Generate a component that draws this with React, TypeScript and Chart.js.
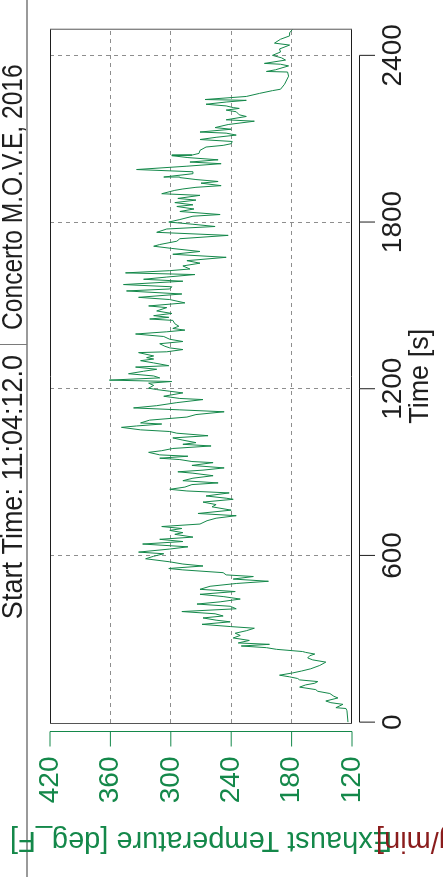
import React, { useEffect, useRef } from "react";
import { Chart, registerables } from "chart.js";

Chart.register(...registerables);

// ---- tick labels / titles ----
const timeTicks = [0, 600, 1200, 1800, 2400];
const tempTicks = [120, 180, 240, 300, 360, 420];
const titleLeft = "Start Time: 11:04:12.0";
const titleRight = "Concerto M.O.V.E, 2016";
const xTitle = "Time [s]";
const yTitle = "Exhaust Temperature [deg_F]";
const y2Title = "Fuel Rate [g/min]";

// ---- series: exhaust temperature vs time ----
const timesA = [0, 41, 49, 52, 64, 70, 76, 87, 93, 103, 111, 117, 126, 134, 140, 146, 152, 157, 163, 169, 177, 184, 192, 204, 216, 224, 231, 239, 245, 251, 254, 262, 268, 274, 280, 285, 294, 303, 312, 320, 329, 338, 344, 352, 361, 367, 375, 382, 390, 398, 408, 417, 425, 433, 443, 452, 460, 470, 478, 489, 499, 507, 515, 524, 530, 538, 548, 553, 562, 569, 577, 588, 597, 606, 612, 623, 631, 641, 650, 658, 666, 676, 682, 690, 697, 704, 713, 725, 734, 743, 751, 763, 775, 783, 792, 802];
const tempsA = [124, 125, 126, 136, 129, 141, 146, 134, 138, 142, 154, 156, 172, 166, 157, 154, 172, 174, 182, 192, 179, 170, 161, 152, 146, 159, 164, 162, 157, 166, 169, 195, 205, 230, 202, 233, 222, 238, 231, 236, 225, 217, 241, 269, 241, 255, 268, 248, 256, 289, 235, 241, 274, 251, 231, 248, 271, 236, 271, 261, 235, 203, 238, 218, 245, 248, 288, 302, 268, 288, 301, 325, 317, 307, 332, 301, 283, 328, 288, 311, 278, 296, 288, 301, 289, 309, 271, 264, 255, 235, 273, 240, 259, 255, 268, 238];

const timesB = [806, 814, 825, 832, 838, 846, 855, 861, 869, 878, 887, 896, 901, 907, 915, 924, 934, 938, 945, 950, 957, 962, 971, 977, 985, 994, 1000, 1006, 1015, 1023, 1031, 1040, 1046, 1052, 1061, 1066, 1073, 1077, 1087, 1098, 1107, 1117, 1124, 1131, 1139, 1150, 1161, 1165, 1173, 1185, 1191, 1197, 1202, 1212, 1220, 1226, 1231, 1239, 1246, 1254, 1263, 1270, 1278, 1283, 1293, 1301, 1307, 1312, 1318, 1330, 1333, 1341, 1347, 1353, 1362, 1370, 1378, 1388, 1397, 1405, 1411, 1417, 1425, 1434, 1446, 1451, 1457, 1463, 1471, 1480, 1492, 1498, 1509, 1521, 1529, 1541, 1552, 1559, 1567, 1575, 1587, 1594, 1602, 1611, 1617, 1625, 1631, 1642, 1652];
const tempsB = [245, 265, 242, 284, 301, 286, 279, 253, 288, 278, 258, 278, 293, 268, 247, 279, 258, 279, 291, 311, 283, 311, 322, 309, 298, 260, 288, 275, 288, 298, 263, 294, 301, 330, 349, 334, 309, 330, 321, 284, 275, 247, 291, 337, 314, 294, 268, 291, 307, 288, 301, 314, 322, 317, 322, 299, 361, 311, 317, 342, 327, 314, 335, 302, 317, 330, 317, 324, 317, 332, 304, 288, 301, 306, 311, 288, 301, 307, 335, 304, 286, 298, 292, 296, 298, 321, 302, 317, 299, 314, 304, 322, 286, 301, 332, 289, 344, 301, 299, 347, 288, 327, 304, 276, 345, 301, 281, 288, 271];

const timesC = [1661, 1673, 1684, 1694, 1705, 1713, 1719, 1731, 1740, 1752, 1763, 1775, 1784, 1792, 1800, 1809, 1821, 1827, 1838, 1847, 1856, 1862, 1870, 1879, 1885, 1896, 1902, 1914, 1919, 1925, 1931, 1940, 1946, 1953, 1960, 1962, 1974, 1981, 1989, 2001, 2010, 2016, 2024, 2032, 2039, 2041, 2047, 2058, 2070, 2076, 2082, 2090, 2097, 2105, 2113, 2120, 2124, 2134, 2140, 2151, 2163, 2168, 2180, 2186, 2197, 2203, 2209, 2212, 2218, 2224, 2232, 2238, 2241, 2252, 2263, 2273, 2278, 2296, 2325, 2340, 2342, 2348, 2362, 2368, 2371, 2383, 2391, 2400, 2412, 2423, 2437, 2444, 2458, 2470, 2481, 2494];
const tempsC = [284, 245, 298, 271, 299, 317, 311, 294, 291, 243, 314, 304, 256, 278, 302, 291, 278, 251, 291, 277, 294, 278, 296, 275, 293, 271, 309, 296, 288, 275, 250, 270, 253, 275, 291, 307, 278, 278, 334, 284, 250, 281, 253, 283, 299, 279, 272, 271, 265, 248, 240, 239, 271, 255, 235, 245, 271, 240, 256, 243, 217, 245, 225, 232, 235, 245, 232, 238, 245, 265, 245, 225, 266, 225, 212, 199, 191, 187, 183, 184, 205, 196, 183, 191, 207, 186, 190, 199, 191, 192, 182, 197, 191, 182, 182, 179];

const W = 877;
const H = 443;
const GREEN = "#14884a";
const RED = "#8a1c1c";
const INK = "#1e1e1e";
const FONT = "'Liberation Sans', Arial, Helvetica, sans-serif";

function buildPoints() {
  const pts: { x: number; y: number }[] = [];
  const add = (ts: number[], vs: number[]) => ts.forEach((t, i) => pts.push({ x: t, y: vs[i] }));
  add(timesA, tempsA);
  add(timesB, tempsB);
  add(timesC, tempsC);
  return pts;
}

const decor = {
  id: "decor",
  afterDraw(chart: any) {
    const ctx: CanvasRenderingContext2D = chart.ctx;
    const { left, right, top, bottom } = chart.chartArea;
    const xs = chart.scales.x;
    const ys = chart.scales.y;
    const seg = (x1: number, y1: number, x2: number, y2: number) => {
      ctx.beginPath();
      ctx.moveTo(x1, y1);
      ctx.lineTo(x2, y2);
      ctx.stroke();
    };
    ctx.save();
    // header band
    ctx.strokeStyle = "#9a9a9a";
    ctx.lineWidth = 2;
    seg(0, 27, W, 27);
    ctx.strokeStyle = "#7a7a7a";
    ctx.lineWidth = 1;
    seg(532.5, 0, 532.5, 27);
    ctx.fillStyle = INK;
    ctx.textBaseline = "alphabetic";
    ctx.font = `30px ${FONT}`;
    ctx.save();
    ctx.translate(522, 22);
    ctx.scale(0.9, 1);
    ctx.textAlign = "right";
    ctx.fillText(titleLeft, 0, 0);
    ctx.restore();
    ctx.save();
    ctx.translate(547, 22);
    ctx.scale(0.82, 1);
    ctx.textAlign = "left";
    ctx.fillText(titleRight, 0, 0);
    ctx.restore();

    // plot box
    ctx.strokeStyle = INK;
    ctx.lineWidth = 1;
    seg(left, top + 0.5, right, top + 0.5);
    seg(left, bottom - 0.5, right, bottom - 0.5);
    ctx.strokeStyle = "#555";
    seg(left, top, left, bottom);
    seg(right, top, right, bottom);

    // time axis (offset, R style)
    const ay = bottom + 7.5;
    ctx.strokeStyle = INK;
    const tx0 = xs.getPixelForValue(timeTicks[0]);
    const tx1 = xs.getPixelForValue(timeTicks[timeTicks.length - 1]);
    seg(tx0, ay, tx1, ay);
    timeTicks.forEach((v) => {
      const px = xs.getPixelForValue(v);
      seg(px, ay, px, ay + 15.5);
    });

    // temperature axis (offset, green)
    const ax = left - 8;
    ctx.strokeStyle = GREEN;
    const ty0 = ys.getPixelForValue(tempTicks[0]);
    const ty1 = ys.getPixelForValue(tempTicks[tempTicks.length - 1]);
    seg(ax, ty0, ax, ty1);
    tempTicks.forEach((v) => {
      const py = ys.getPixelForValue(v);
      seg(ax - 15, py, ax, py);
    });

    // axis titles
    ctx.fillStyle = INK;
    ctx.font = `27px ${FONT}`;
    ctx.textAlign = "center";
    ctx.textBaseline = "alphabetic";
    ctx.fillText(xTitle, (left + right) / 2, 428);

    ctx.save();
    ctx.translate(45, (top + bottom) / 2);
    ctx.rotate(-Math.PI / 2);
    ctx.font = `29px ${FONT}`;
    ctx.fillStyle = GREEN;
    ctx.textAlign = "center";
    ctx.fillText(yTitle, 0, 0);
    ctx.restore();

    ctx.save();
    ctx.translate(45, 376);
    ctx.rotate(-Math.PI / 2);
    ctx.font = `29px ${FONT}`;
    ctx.fillStyle = RED;
    ctx.textAlign = "right";
    ctx.fillText(y2Title, 0, 0);
    ctx.restore();

    ctx.restore();
  },
};

export default function App() {
  const ref = useRef<HTMLCanvasElement>(null);
  useEffect(() => {
    document.body.style.margin = "0";
    const canvas = ref.current;
    if (!canvas) return;
    const gridColor = (edgeA: number, edgeB: number) => (c: any) => {
      const v = c.tick ? c.tick.value : NaN;
      return v > edgeA && v < edgeB ? "#8e8e8e" : "rgba(0,0,0,0)";
    };
    const plain = (v: any) => String(v);
    const chart = new Chart(canvas, {
      type: "line",
      data: {
        datasets: [
          {
            data: buildPoints(),
            borderColor: GREEN,
            borderWidth: 1,
            pointRadius: 0,
            tension: 0,
            fill: false,
          },
        ],
      },
      options: {
        responsive: false,
        animation: false,
        devicePixelRatio: 1,
        layout: { padding: { top: 50, right: 5, left: 0, bottom: 0 } },
        plugins: {
          legend: { display: false },
          tooltip: { enabled: false },
          title: { display: false },
        },
        scales: {
          x: {
            type: "linear",
            min: -5,
            max: 2494,
            afterBuildTicks: (s: any) => {
              s.ticks = timeTicks.map((v) => ({ value: v }));
            },
            afterFit: (s: any) => {
              s.height = 91;
            },
            grid: {
              color: gridColor(1, 2490),
              lineWidth: 1,
              drawTicks: false,
              tickLength: 0,
            },
            border: { display: false, dash: [4, 4] },
            ticks: {
              color: INK,
              font: { family: FONT, size: 28 },
              padding: 24,
              maxRotation: 0,
              minRotation: 0,
              autoSkip: false,
              callback: plain,
            },
          },
          y: {
            type: "linear",
            min: 120,
            max: 420,
            afterBuildTicks: (s: any) => {
              s.ticks = tempTicks.map((v) => ({ value: v }));
            },
            afterFit: (s: any) => {
              s.width = 153.5;
            },
            grid: {
              color: gridColor(121, 419),
              lineWidth: 1,
              drawTicks: false,
              tickLength: 0,
            },
            border: { display: false, dash: [4, 4] },
            ticks: {
              color: GREEN,
              font: { family: FONT, size: 28 },
              padding: 33,
              autoSkip: false,
              callback: plain,
            },
          },
        },
      },
      plugins: [decor],
    } as any);
    return () => chart.destroy();
  }, []);

  return (
    <div
      style={{
        position: "fixed",
        left: 0,
        top: 0,
        width: 443,
        height: 877,
        overflow: "hidden",
        background: "#fff",
      }}
    >
      <div
        style={{
          position: "absolute",
          left: 0,
          top: 0,
          width: W,
          height: H,
          transformOrigin: "0 0",
          transform: `translateY(${W}px) rotate(-90deg)`,
        }}
      >
        <canvas ref={ref} width={W} height={H} style={{ display: "block", width: W, height: H }} />
      </div>
    </div>
  );
}
